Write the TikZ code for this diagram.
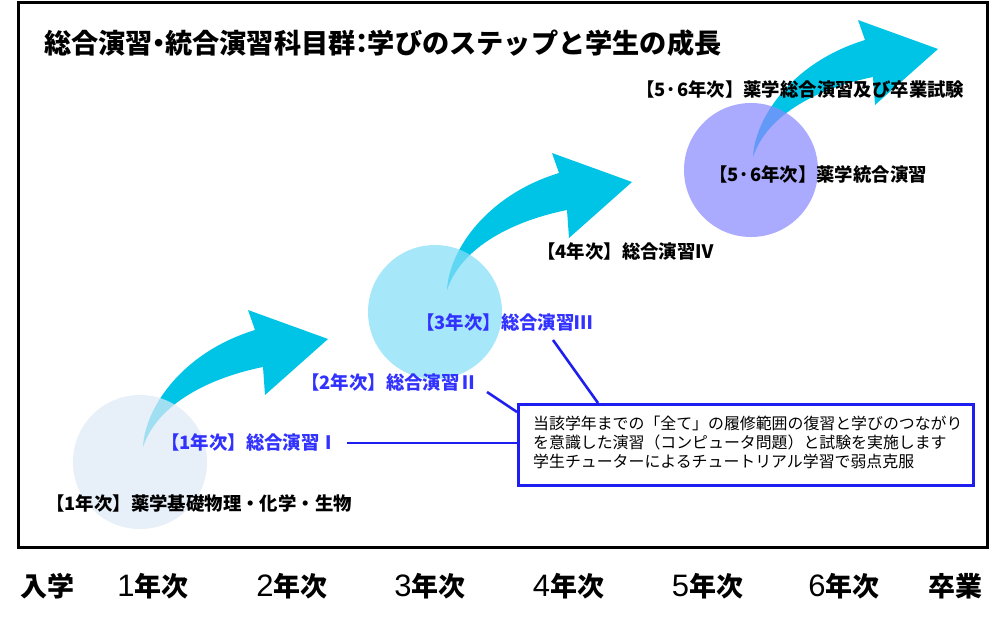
\documentclass[tikz,border=0pt]{standalone}
\usepackage{fontspec}
\newfontfamily\jp{Noto Sans CJK JP}
\newfontfamily\digit{Liberation Sans}
\definecolor{arrowcol}{RGB}{0,196,230}
\definecolor{circA}{RGB}{222,233,248}
\definecolor{circB}{RGB}{133,222,248}
\definecolor{circC}{RGB}{138,138,255}
\definecolor{lblue}{RGB}{50,50,255}
\definecolor{bblue}{RGB}{30,30,240}
\newcommand{\narrow}[1]{\makebox[0.45em]{#1}}
\newcommand{\dg}[1]{{\digit\mdseries\fontsize{31}{31}\selectfont #1}}
\tikzset{
  bigarrow/.pic={
    \fill[arrowcol] (0,0) .. controls (2,-40) and (40,-95) .. (112,-117)
      -- (105,-137) -- (185,-108) -- (122,-52) -- (120,-80)
      .. controls (70,-70) and (15,-45) .. (0,0) -- cycle;
  },
  disc/.style={circle, minimum size=134pt, inner sep=0pt, fill opacity=0.72},
  lbl/.style={inner sep=0pt, anchor=west, font=\jp\bfseries\fontsize{18.4}{18.4}\selectfont},
  blbl/.style={lbl, text=lblue},
  boxtxt/.style={inner sep=0pt, anchor=west, font=\jp\fontsize{15.9}{15.9}\selectfont},
  yr/.style={inner sep=0pt, font=\jp\bfseries\fontsize{27}{27}\selectfont},
  link/.style={draw=bblue, line width=2.6pt},
}
\begin{document}
\begin{tikzpicture}[x=1pt, y=-1pt]
\useasboundingbox (0,0) rectangle (1000,619);
\fill[white] (0,0) rectangle (1000,619);
% frame
\draw[line width=3pt] (18.5,2) rectangle (987,547);
% title
\node[inner sep=0pt, anchor=west, font=\jp\bfseries\fontsize{27.2}{27.2}\selectfont] (title) at (44,43) {総合演習\narrow{・}統合演習科目群\narrow{：}学びのステップと学生の成長};
% arrows
\pic at (143,447) {bigarrow};
\pic at (447,290) {bigarrow};
\pic at (753,157) {bigarrow};
% circles
\node[disc, fill=circA] (c1) at (140,462) {};
\node[disc, fill=circB] (c3) at (435,312) {};
\node[disc, fill=circC] (c5) at (751,170) {};
% labels
\node[lbl] (base) at (46,503) {【1年次】薬学基礎物理・化学・生物};
\node[blbl] (l1) at (161,443) {【1年次】総合演習Ⅰ};
\node[blbl] (l2) at (301,383) {【2年次】総合演習Ⅱ};
\node[blbl] (l3) at (416,323) {【3年次】総合演習Ⅲ};
\node[lbl] (l4) at (537,252) {【4年次】総合演習Ⅳ};
\node[lbl] (l5) at (709,175) {【5·6年次】薬学統合演習};
\node[lbl] (l6) at (636,90) {【5·6年次】薬学総合演習及び卒業試験};
% box
\node[draw=bblue, line width=3pt, fill=white, minimum width=455pt, minimum height=81pt, inner sep=0pt, anchor=north west] (box) at (517,403) {};
\node[boxtxt] (t1) at (533,423) {当該学年までの「全て」の履修範囲の復習と学びのつながり};
\node[boxtxt] (t2) at (533,442) {を意識した演習（コンピュータ問題）と試験を実施します};
\node[boxtxt] (t3) at (533,461) {学生チューターによるチュートリアル学習で弱点克服};
% connectors
\coordinate (a1) at (347,443);
\coordinate (a2) at (487,392);
\coordinate (b2) at (517,412);
\coordinate (a3) at (553,340);
\coordinate (b3) at (598,403);
\draw[link] (a1) -- (a1 -| box.west);
\draw[link] (a2) -- (b2);
\draw[link] (a3) -- (b3);
% bottom labels
\node[yr] (y0) at (47.5,586) {入学};
\node[yr] (y1) at (153,586) {\dg{1}年次};
\node[yr] (y2) at (292,586) {\dg{2}年次};
\node[yr] (y3) at (430,586) {\dg{3}年次};
\node[yr] (y4) at (568.5,586) {\dg{4}年次};
\node[yr] (y5) at (707.5,586) {\dg{5}年次};
\node[yr] (y6) at (844,586) {\dg{6}年次};
\node[yr] (y7) at (955,586) {卒業};
\end{tikzpicture}
\end{document}
